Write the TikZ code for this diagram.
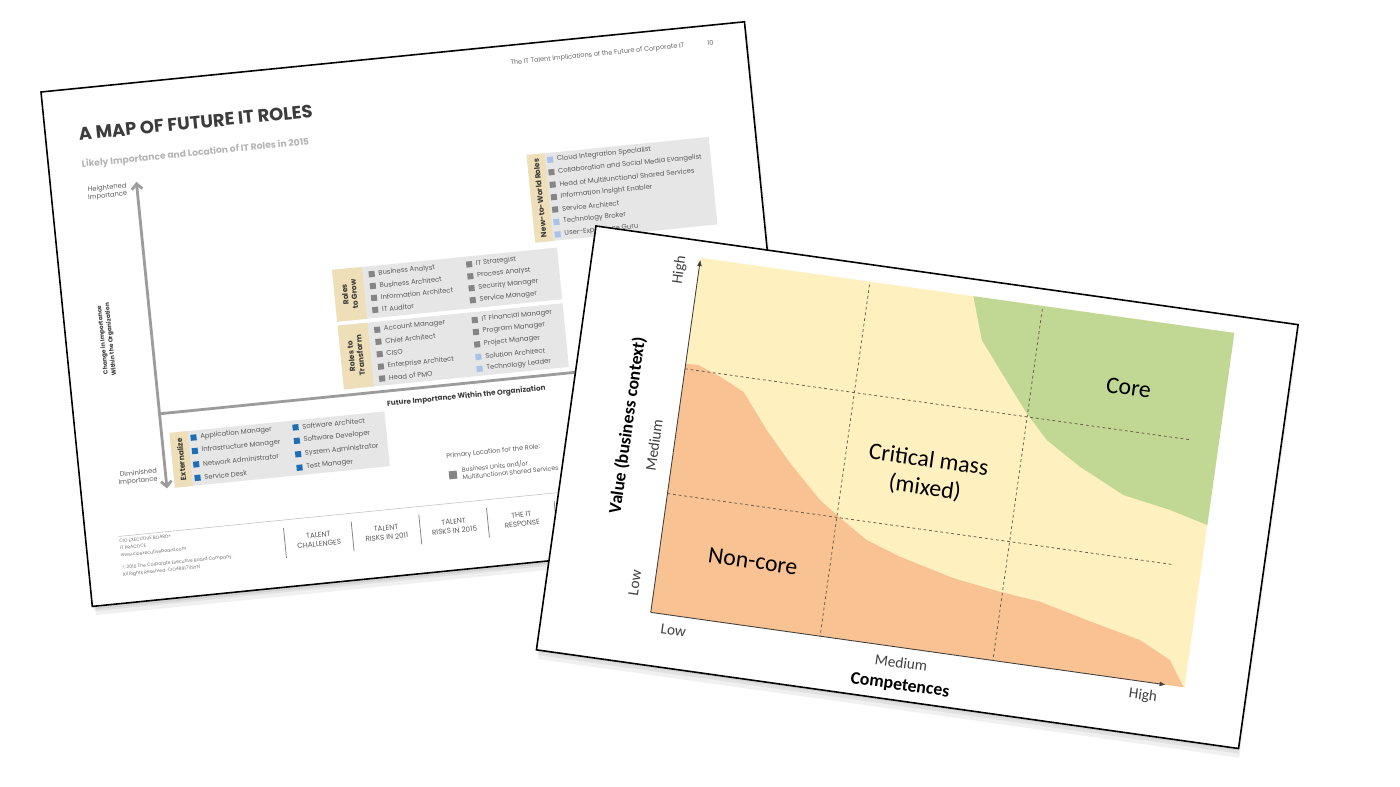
\documentclass[tikz,border=0pt]{standalone}
\usepackage{fontspec}
\setmainfont{Carlito}
\newfontfamily\mapfont{Poppins}
\usetikzlibrary{arrows.meta}

\newlength{\du}
\setlength{\du}{0.02cm}

\definecolor{titlegray}{HTML}{3C3C3C}
\definecolor{subgray}{HTML}{B4B4B4}
\definecolor{boxgray}{HTML}{E6E6E6}
\definecolor{tabbeige}{HTML}{EEDFB8}
\definecolor{textgray}{HTML}{5A5A5A}
\definecolor{axisgray}{HTML}{9C9C9C}
\definecolor{sqblue}{HTML}{1F6DB5}
\definecolor{sqgray}{HTML}{858585}
\definecolor{sqlight}{HTML}{A9C2E8}
\definecolor{zoneyellow}{HTML}{FFF1BF}
\definecolor{zoneorange}{HTML}{F9C293}
\definecolor{zonegreen}{HTML}{C1D794}
\definecolor{gridline}{HTML}{6E6048}

\tikzset{
  sheet/.style={fill=white, draw=black, line width=0.9pt},
  sheetshade/.style={fill=black, opacity=0.06},
  maptext/.style={inner sep=0pt, rotate=5.7, text=textgray},
  roletext/.style={maptext, anchor=west, font=\mapfont\fontsize{3.9}{4.6}\selectfont},
  tabtext/.style={inner sep=0pt, rotate=95.7, align=center, text=titlegray, font=\mapfont\bfseries\fontsize{4.3}{5.2}\selectfont},
  navtext/.style={maptext, align=center, font=\mapfont\fontsize{4.1}{5.2}\selectfont},
  navsep/.style={draw=sqgray, line width=0.45pt},
  gridtext/.style={inner sep=0pt, rotate=-8},
  zonetext/.style={gridtext, align=center, font=\fontsize{13.5}{16}\selectfont},
  ticktext/.style={gridtext, text=black!75, font=\fontsize{8.7}{10}\selectfont},
  yticktext/.style={inner sep=0pt, rotate=82, text=black!75, font=\fontsize{8.7}{10}\selectfont},
  gridrule/.style={draw=gridline, line width=0.45pt, dash pattern=on 1.6pt off 1.6pt},
  gridaxis/.style={draw=black!75, line width=0.5pt, -{Latex[length=3.5pt,width=2.8pt]}}
}

\begin{document}
\begin{tikzpicture}
\pgftransformxscale{1.000000}
\pgftransformyscale{-1.000000}
\useasboundingbox (0\du,0\du) rectangle (1400\du,787\du);
\fill[white] (0\du,0\du) rectangle (1400\du,787\du);

% back sheet: map of future IT roles
\begin{scope}[shift={(41\du,92\du)},rotate=-5.7]
\fill[sheetshade] (3\du,8\du) rectangle (709\du,526\du);
\fill[sheetshade] (2\du,5\du) rectangle (708\du,522\du);
\fill[sheetshade] (1\du,3\du) rectangle (707\du,520\du);
\filldraw[sheet] (0\du,0\du) rectangle (707\du,517\du);
\node[maptext, anchor=east, text=black!60, font=\mapfont\fontsize{3.7}{4.5}\selectfont] (mapheader) at (645\du,18\du){The IT Talent Implications of the Future of Corporate IT};
\node[maptext, text=black!60, font=\mapfont\fontsize{3.7}{4.5}\selectfont] (mappage) at (671\du,18\du){10};
\node[maptext, anchor=base west, text=titlegray, font=\mapfont\bfseries\fontsize{10.2}{12}\selectfont] (maptitle) at (33\du,52\du){A MAP OF FUTURE IT ROLES};
\node[maptext, anchor=base west, text=subgray, font=\mapfont\bfseries\fontsize{5.2}{6}\selectfont] (mapsubtitle) at (33\du,79\du){Likely Importance and Location of IT Roles in 2015};
% axes
\coordinate (mapup) at (86\du,99\du);
\coordinate (mapdown) at (86\du,407\du);
\coordinate (mapmid) at (86\du,332\du);
\coordinate (mapright) at (690\du,332\du);
\draw[draw=axisgray, line width=1.6pt, {Straight Barb[length=3pt,width=6pt]}-{Straight Barb[length=3pt,width=6pt]}] (mapup) -- (mapdown);
\draw[draw=axisgray, line width=1.6pt] (mapmid) -- (mapright);
\node[maptext, anchor=east, align=right, font=\mapfont\fontsize{3.8}{4.5}\selectfont] (heightened) at (76\du,106\du){Heightened\\Importance};
\node[maptext, anchor=east, align=right, font=\mapfont\fontsize{3.8}{4.5}\selectfont] (diminished) at (78\du,393\du){Diminished\\Importance};
\node[inner sep=0pt, rotate=95.7, align=center, text=titlegray, font=\mapfont\bfseries\fontsize{3.4}{4.6}\selectfont] (changelabel) at (41\du,253\du){Change in Importance\\Within the Organization};
\node[maptext, text=titlegray, font=\mapfont\bfseries\fontsize{4.1}{5}\selectfont] (futurelabel) at (393\du,345\du){Future Importance Within the Organization};
% externalize
\fill[boxgray] (94\du,352\du) rectangle (310\du,407\du);
\fill[tabbeige] (94\du,352\du) rectangle (112\du,407\du);
\node[tabtext] (exttab) at (103\du,379.5\du){Externalize};
\fill[sqblue] (114.5\du,356\du) rectangle (120.5\du,362\du);
\node[roletext] (ext1) at (124\du,359\du){Application Manager};
\fill[sqblue] (114.5\du,369.5\du) rectangle (120.5\du,375.5\du);
\node[roletext] (ext2) at (124\du,372.5\du){Infrastructure Manager};
\fill[sqblue] (114.5\du,383\du) rectangle (120.5\du,389\du);
\node[roletext] (ext3) at (124\du,386\du){Network Administrator};
\fill[sqblue] (114.5\du,396.5\du) rectangle (120.5\du,402.5\du);
\node[roletext] (ext4) at (124\du,399.5\du){Service Desk};
\fill[sqblue] (217\du,356\du) rectangle (223\du,362\du);
\node[roletext] (ext5) at (226.5\du,359\du){Software Architect};
\fill[sqblue] (217\du,369.5\du) rectangle (223\du,375.5\du);
\node[roletext] (ext6) at (226.5\du,372.5\du){Software Developer};
\fill[sqblue] (217\du,383\du) rectangle (223\du,389\du);
\node[roletext] (ext7) at (226.5\du,386\du){System Administrator};
\fill[sqblue] (217\du,396.5\du) rectangle (223\du,402.5\du);
\node[roletext] (ext8) at (226.5\du,399.5\du){Test Manager};
% roles to grow
\fill[boxgray] (272\du,206\du) rectangle (498\du,258\du);
\fill[tabbeige] (272\du,206\du) rectangle (302\du,258\du);
\node[tabtext] (growtab) at (287\du,232\du){Roles\\to Grow};
\fill[sqgray] (308\du,211\du) rectangle (314\du,217\du);
\node[roletext] (grow1) at (317.5\du,214\du){Business Analyst};
\fill[sqgray] (308\du,223\du) rectangle (314\du,229\du);
\node[roletext] (grow2) at (317.5\du,226\du){Business Architect};
\fill[sqgray] (308\du,235\du) rectangle (314\du,241\du);
\node[roletext] (grow3) at (317.5\du,238\du){Information Architect};
\fill[sqgray] (308\du,247\du) rectangle (314\du,253\du);
\node[roletext] (grow4) at (317.5\du,250\du){IT Auditor};
\fill[sqgray] (406\du,211\du) rectangle (412\du,217\du);
\node[roletext] (grow5) at (415.5\du,214\du){IT Strategist};
\fill[sqgray] (406\du,223\du) rectangle (412\du,229\du);
\node[roletext] (grow6) at (415.5\du,226\du){Process Analyst};
\fill[sqgray] (406\du,235\du) rectangle (412\du,241\du);
\node[roletext] (grow7) at (415.5\du,238\du){Security Manager};
\fill[sqgray] (406\du,247\du) rectangle (412\du,253\du);
\node[roletext] (grow8) at (415.5\du,250\du){Service Manager};
% roles to transform
\fill[boxgray] (272\du,262\du) rectangle (498\du,326\du);
\fill[tabbeige] (272\du,262\du) rectangle (302\du,326\du);
\node[tabtext] (transtab) at (287\du,294\du){Roles to\\Transform};
\fill[sqgray] (308\du,267\du) rectangle (314\du,273\du);
\node[roletext] (trans1) at (317.5\du,270\du){Account Manager};
\fill[sqgray] (308\du,279\du) rectangle (314\du,285\du);
\node[roletext] (trans2) at (317.5\du,282\du){Chief Architect};
\fill[sqgray] (308\du,291.5\du) rectangle (314\du,297.5\du);
\node[roletext] (trans3) at (317.5\du,294.5\du){CISO};
\fill[sqgray] (308\du,304\du) rectangle (314\du,310\du);
\node[roletext] (trans4) at (317.5\du,307\du){Enterprise Architect};
\fill[sqgray] (308\du,316\du) rectangle (314\du,322\du);
\node[roletext] (trans5) at (317.5\du,319\du){Head of PMO};
\fill[sqgray] (406\du,267\du) rectangle (412\du,273\du);
\node[roletext] (trans6) at (415.5\du,270\du){IT Financial Manager};
\fill[sqgray] (406\du,279\du) rectangle (412\du,285\du);
\node[roletext] (trans7) at (415.5\du,282\du){Program Manager};
\fill[sqgray] (406\du,291.5\du) rectangle (412\du,297.5\du);
\node[roletext] (trans8) at (415.5\du,294.5\du){Project Manager};
\fill[sqlight] (406\du,304\du) rectangle (412\du,310\du);
\node[roletext] (trans9) at (415.5\du,307\du){Solution Architect};
\fill[sqlight] (406\du,316\du) rectangle (412\du,322\du);
\node[roletext] (trans10) at (415.5\du,319\du){Technology Leader};
% new-to-world roles
\fill[boxgray] (477\du,111\du) rectangle (660\du,199\du);
\fill[tabbeige] (477\du,111\du) rectangle (495\du,199\du);
\node[tabtext] (newtab) at (486\du,155\du){New-to-World Roles};
\fill[sqlight] (497\du,115\du) rectangle (503\du,121\du);
\node[roletext] (new1) at (506.5\du,118\du){Cloud Integration Specialist};
\fill[sqgray] (497\du,127.5\du) rectangle (503\du,133.5\du);
\node[roletext] (new2) at (506.5\du,130.5\du){Collaboration and Social Media Evangelist};
\fill[sqgray] (497\du,140\du) rectangle (503\du,146\du);
\node[roletext] (new3) at (506.5\du,143\du){Head of Multifunctional Shared Services};
\fill[sqgray] (497\du,152.5\du) rectangle (503\du,158.5\du);
\node[roletext] (new4) at (506.5\du,155.5\du){Information Insight Enabler};
\fill[sqgray] (497\du,165\du) rectangle (503\du,171\du);
\node[roletext] (new5) at (506.5\du,168\du){Service Architect};
\fill[sqlight] (497\du,177.5\du) rectangle (503\du,183.5\du);
\node[roletext] (new6) at (506.5\du,180.5\du){Technology Broker};
\fill[sqlight] (497\du,190\du) rectangle (503\du,196\du);
\node[roletext] (new7) at (506.5\du,193\du){User-Experience Guru};
% legend
\node[roletext, font=\mapfont\fontsize{3.7}{4.5}\selectfont] (legendtitle) at (367\du,403\du){Primary Location for the Role:};
\fill[sqgray] (368\du,418\du) rectangle (376\du,426\du);
\node[roletext, align=left, font=\mapfont\fontsize{3.5}{4.4}\selectfont] (legendtext) at (381\du,421\du){Business Units and/or\\Multifunctional Shared Services};
% footer
\draw[draw=black!25, line width=0.3pt] (33\du,450\du) -- (675\du,450\du);
\node[maptext, anchor=north west, align=left, text=black!55, font=\mapfont\fontsize{2.6}{4}\selectfont] (footerleft) at (33\du,453\du){CIO EXECUTIVE BOARD®\\IT PRACTICE\\www.cioexecutiveboard.com\\[3pt]© 2010 The Corporate Executive Board Company.\\All Rights Reserved. CIO4891711SYN};
\draw[navsep] (198\du,458\du) -- (198\du,488\du);
\draw[navsep] (266\du,458\du) -- (266\du,488\du);
\draw[navsep] (334\du,458\du) -- (334\du,488\du);
\draw[navsep] (402\du,458\du) -- (402\du,488\du);
\draw[navsep] (470\du,458\du) -- (470\du,488\du);
\node[navtext] (nav1) at (232\du,473\du){TALENT\\CHALLENGES};
\node[navtext] (nav2) at (300\du,473\du){TALENT\\RISKS IN 2011};
\node[navtext] (nav3) at (368\du,473\du){TALENT\\RISKS IN 2015};
\node[navtext] (nav4) at (436\du,473\du){THE IT\\RESPONSE};
\end{scope}

% front sheet: competences versus value grid
\begin{scope}[shift={(596\du,226\du)},rotate=8]
\fill[sheetshade] (3\du,8\du) rectangle (711\du,437\du);
\fill[sheetshade] (2\du,5\du) rectangle (710\du,433\du);
\fill[sheetshade] (1\du,3\du) rectangle (709\du,430\du);
\filldraw[sheet] (0\du,0\du) rectangle (709\du,428\du);
\fill[zoneyellow] (108\du,17\du) rectangle (647\du,375\du);
\fill[zoneorange] (108\du,124\du)--(120.6\du,123.4\du)--(143.8\du,131.9\du)--(169\du,143.6\du)--(197.4\du,178.2\du)--(225.1\du,207.7\du)--(259.9\du,240.1\du)--(278.6\du,252.7\du)--(311.8\du,273.3\du)--(347\du,285.2\du)--(402.5\du,298.9\du)--(451\du,306\du)--(492\du,310.2\du)--(540.7\du,321.9\du)--(596.3\du,334.3\du)--(628.8\du,349.9\du)--(646\du,375\du)--(108\du,375\du)--cycle;
\fill[zonegreen] (383.5\du,17\du)--(397.9\du,59.2\du)--(420.1\du,86.4\du)--(452.6\du,125.5\du)--(476.1\du,149.2\du)--(512.8\du,171\du)--(559.6\du,193\du)--(607.9\du,201.3\du)--(647\du,211\du)--(647\du,17\du)--cycle;
\draw[gridrule] (279\du,20\du) -- (279\du,375\du);
\draw[gridrule] (453.5\du,20\du) -- (453.5\du,375\du);
\draw[gridrule] (108\du,129\du) -- (618\du,129\du);
\draw[gridrule] (108\du,255\du) -- (619\du,255\du);
\coordinate (origin) at (108\du,375\du);
\coordinate (ytop) at (108\du,19\du);
\coordinate (xend) at (628\du,375\du);
\draw[gridaxis] (origin) -- (ytop);
\draw[gridaxis] (origin) -- (xend);
\node[zonetext] (core) at (550\du,86\du){Core};
\node[zonetext] (critmass) at (362\du,200\du){Critical mass\\(mixed)};
\node[zonetext] (noncore) at (202\du,310\du){Non-core};
\node[ticktext] (xlow) at (133\du,390\du){Low};
\node[ticktext] (xmed) at (363\du,390\du){Medium};
\node[ticktext] (xhigh) at (607\du,389\du){High};
\node[gridtext, font=\bfseries\fontsize{10.1}{12}\selectfont] (competences) at (365\du,413\du){Competences};
\node[yticktext] (ylow) at (88\du,348\du){Low};
\node[yticktext] (ymed) at (88\du,209\du){Medium};
\node[yticktext] (yhigh) at (89\du,32\du){High};
\node[inner sep=0pt, rotate=82, font=\bfseries\fontsize{10.1}{12}\selectfont] (valuelabel) at (59\du,193\du){Value (business context)};
\end{scope}
\end{tikzpicture}
\end{document}
